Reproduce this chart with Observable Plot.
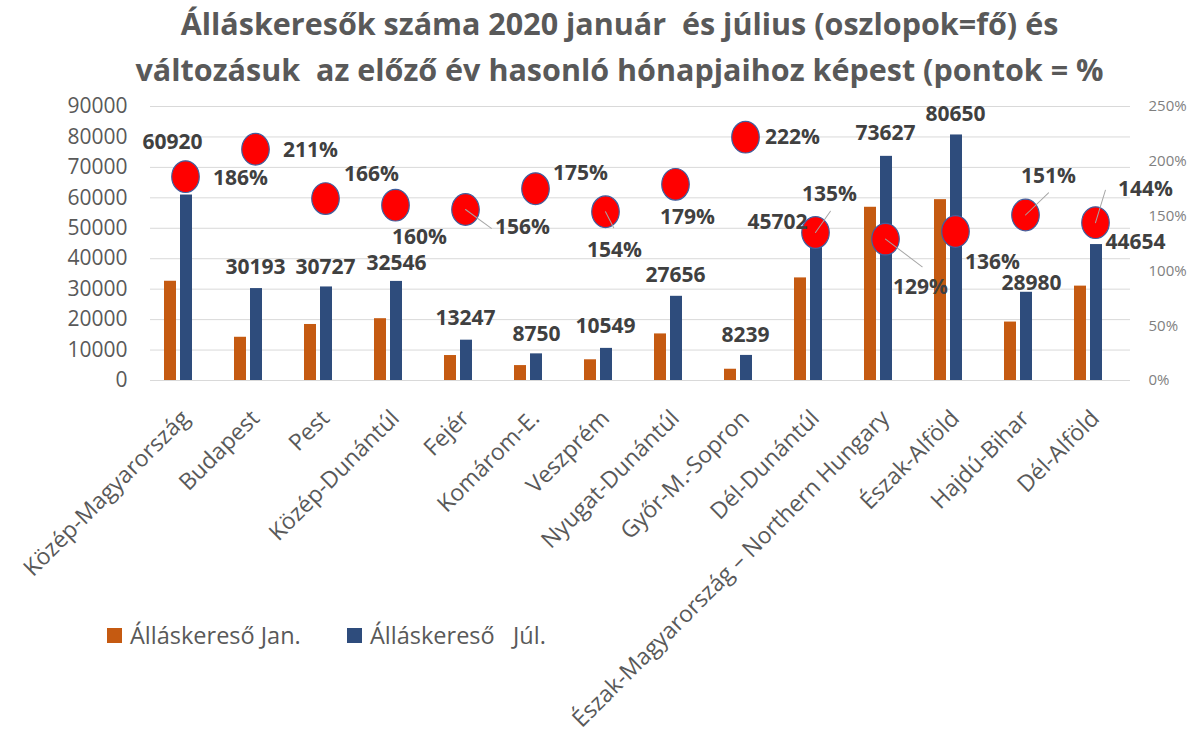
<!DOCTYPE html>
<html>
<head>
<meta charset="utf-8">
<script src="https://cdn.jsdelivr.net/npm/d3@7"></script>
<script src="https://cdn.jsdelivr.net/npm/@observablehq/plot@0.6"></script>
<style>
  html, body { margin: 0; padding: 0; background: #fff; }
  #wrap { position: relative; width: 1195px; height: 745px; overflow: hidden; }
  #title { height: 95px; box-sizing: border-box; padding-left: 44px; padding-top: 0px;
    text-align: center; font-family: "Open Sans", sans-serif; font-weight: 700; font-size: 30.5px;
    line-height: 46px; color: #595959; white-space: pre; }
  .lg { position: absolute; top: 620px; height: 30px; font-family: "Open Sans", sans-serif;
    font-size: 23.5px; color: #595959; white-space: pre; display: flex; align-items: center; }
  .sw { display: inline-block; width: 15px; height: 15px; margin-right: 8px; }
</style>
</head>
<body>
<div id="wrap">
  <div id="title"></div>
  <div id="chart"></div>
</div>
<script>
const titleLines = [
  "Álláskeresők száma 2020 január  és július (oszlopok=fő) és",
  "változásuk  az előző év hasonló hónapjaihoz képest (pontok = %"
];
const regions = ["Közép-Magyarország","Budapest","Pest","Közép-Dunántúl","Fejér","Komárom-E.","Veszprém","Nyugat-Dunántúl","Győr-M.-Sopron","Dél-Dunántúl","Észak-Magyarország – Northern Hungary","Észak-Alföld","Hajdú-Bihar","Dél-Alföld"];
const janValues = [32600, 14200, 18400, 20300, 8200, 4900, 6800, 15300, 3700, 33700, 56900, 59400, 19200, 31000];
const julValues = [60920, 30193, 30727, 32546, 13247, 8750, 10549, 27656, 8239, 45702, 73627, 80650, 28980, 44654];
const pctValues = [186, 211, 166, 160, 156, 175, 154, 179, 222, 135, 129, 136, 151, 144];
const leftTicks = [0, 10000, 20000, 30000, 40000, 50000, 60000, 70000, 80000, 90000];
const rightTicks = [0, 50, 100, 150, 200, 250];
const seriesNames = ["Álláskereső Jan.", "Álláskereső   Júl."];
const colors = ["#C55A11", "#2E4C7C"];

// layout: label offsets (px), leader lines, legend positions
const valueOffsets = [[-13,-53],[0,-21],[0,-20],[1,-18],[0,-22],[1,-20],[0,-22],[0,-21],[0,-20],[-38,-19],[0,-23],[0,-21],[6,-9],[40,-2]];
const pctOffsets = [[55,2],[55,1],[46,-24],[24,32],[57,18],[45,-15],[9,39],[12,33],[47,0],[14,-38],[35,48],[37,31],[23,-39],[50,-33]];
const leaders = [[4,32,126],[6,18,153],[9,26,35],[10,46,127],[12,32,46],[13,34,17]];
const legendLeft = [107, 347];

const pctToY = 90000 / 250;
const data = regions.map((r, i) => ({region: r, jan: janValues[i], jul: julValues[i], pct: pctValues[i], py: pctValues[i] * pctToY}));

document.getElementById("title").textContent = titleLines.join("\n");

const ellipse = {
  draw(context, size) {
    const r = Math.sqrt(size / Math.PI), rx = r * 0.93, ry = r * 1.07, k = 0.5523;
    context.moveTo(rx, 0);
    context.bezierCurveTo(rx, ry * k, rx * k, ry, 0, ry);
    context.bezierCurveTo(-rx * k, ry, -rx, ry * k, -rx, 0);
    context.bezierCurveTo(-rx, -ry * k, -rx * k, -ry, 0, -ry);
    context.bezierCurveTo(rx * k, -ry, rx, -ry * k, rx, 0);
    context.closePath();
  }
};
const lineShape = { draw(context, l) { context.moveTo(0, 0); context.lineTo(0, -l); } };

const font = "'Open Sans', sans-serif";
const valueLabels = data.map((d, i) => Plot.text([d], {x: "region", y: "jul", text: d => String(d.jul),
  dx: valueOffsets[i][0], dy: valueOffsets[i][1], fontSize: 21, fontWeight: 700, fill: "#404040", fontFamily: font}));
const pctLabels = data.map((d, i) => Plot.text([d], {x: "region", y: "py", text: d => d.pct + "%",
  dx: pctOffsets[i][0], dy: pctOffsets[i][1], fontSize: 21, fontWeight: 700, fill: "#404040", fontFamily: font}));
const leaderData = leaders.map(([i, len, ang]) => ({region: regions[i], py: data[i].py, len, ang}));

const chart = Plot.plot({
  width: 1195,
  height: 650,
  marginLeft: 150,
  marginRight: 65,
  marginTop: 11,
  marginBottom: 365,
  style: {fontFamily: font, background: "transparent", overflow: "visible"},
  x: {type: "band", domain: regions, padding: 0, label: null},
  y: {domain: [0, 90000], label: null},
  length: {type: "identity"},
  marks: [
    Plot.gridY(leftTicks, {stroke: "#d9d9d9", strokeOpacity: 1}),
    Plot.axisY({ticks: leftTicks, tickSize: 0, tickPadding: 23, fontSize: 21, fill: "#595959", label: null, tickFormat: d => String(d)}),
    Plot.axisY({anchor: "right", ticks: rightTicks.map(p => p * pctToY), tickSize: 0, tickPadding: 18, fontSize: 15, fill: "#7f7f7f", label: null, tickFormat: d => Math.round(d / pctToY) + "%", textAnchor: "start"}),
    Plot.axisX({tickRotate: -45, tickSize: 0, tickPadding: 34, fontSize: 23, fill: "#595959", label: null}),
    Plot.barY(data, {x: "region", y: "jan", fill: colors[0], insetLeft: 14, insetRight: 44}),
    Plot.barY(data, {x: "region", y: "jul", fill: colors[1], insetLeft: 30, insetRight: 28}),
    Plot.dot(data, {x: "region", y: "py", r: 14.8, symbol: ellipse, fill: "#FF0000", stroke: "#3F5F9F", strokeWidth: 1.2}),
    Plot.vector(leaderData, {x: "region", y: "py", length: "len", rotate: "ang", anchor: "start", shape: lineShape, stroke: "#a6a6a6", strokeWidth: 1}),
    ...valueLabels,
    ...pctLabels
  ]
});
document.getElementById("chart").appendChild(chart);

const wrap = document.getElementById("wrap");
seriesNames.forEach((name, i) => {
  const item = document.createElement("div");
  item.className = "lg";
  item.style.left = legendLeft[i] + "px";
  const sw = document.createElement("span");
  sw.className = "sw";
  sw.style.background = colors[i];
  item.appendChild(sw);
  item.appendChild(document.createTextNode(name));
  wrap.appendChild(item);
});
</script>
</body>
</html>
